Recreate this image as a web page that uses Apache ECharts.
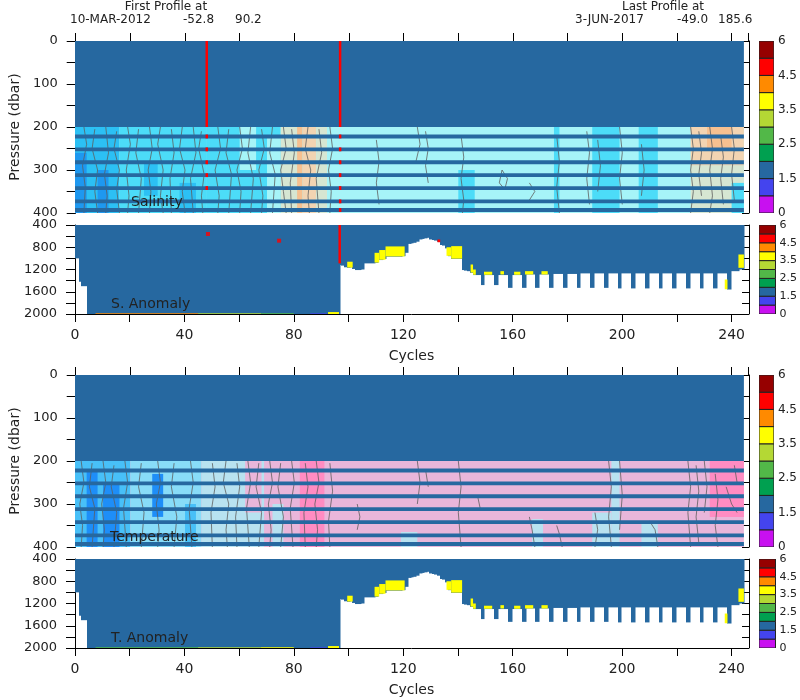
<!DOCTYPE html>
<html><head><meta charset="utf-8">
<script src="https://cdn.jsdelivr.net/npm/echarts@6/dist/echarts.min.js"></script>
<style>html,body{margin:0;background:#fff}#c{width:800px;height:700px}</style>
</head><body><div id="c"></div><script>
// ---------------- DATA ----------------
const cycleTickStep = 20;
const cycleLabelStep = 40;
const colorbarLabels = {0:'0',2:'1.5',4:'2.5',6:'3.5',8:'4.5',10:'6'};
const colorbarBoxes = [0,1,2,3,4,5,6,7,8,9];
// pressure levels of the sampled rows (dbar) in the 200-400 window
const bandPressures = [222,252,282,312,342,373,393];
// deepest pressure of each profile: [firstCycle, lastCycle, maxPressure]
const profileRuns = [
 [0,1,1000],[2,2,1420],[3,4,1500],[5,96,2000],
 [97,97,1120],[98,98,1130],[99,99,1160],[100,100,1170],[101,101,1160],[102,102,1190],[103,104,1210],[105,105,1200],
 [106,109,1090],[110,110,1080],[111,112,1030],[113,113,1010],[114,119,970],[120,120,960],[121,121,900],
 [122,122,740],[123,123,730],[124,124,720],[125,125,700],[126,126,660],[127,127,650],[128,128,640],[129,129,630],
 [130,130,660],[131,131,670],[132,132,680],[133,133,700],[134,134,760],[135,135,770],[136,136,820],[137,137,960],
 [138,141,1010],[142,142,1210],[143,143,1220],[144,144,1230],[145,145,1260],[146,148,1300],[149,149,1480],
 [150,153,1300],[154,154,1480],[155,158,1300],[159,159,1530],[160,163,1300],[164,164,1530],[165,168,1290],
 [169,169,1530],[170,173,1290],[174,174,1530],[175,178,1280],[179,179,1530],[180,183,1280],[184,184,1530],
 [185,188,1270],[189,189,1530],[190,193,1270],[194,194,1530],[195,198,1270],[199,199,1540],[200,203,1270],
 [204,204,1540],[205,208,1270],[209,209,1540],[210,213,1270],[214,214,1540],[215,218,1270],[219,219,1540],
 [220,223,1270],[224,224,1540],[225,228,1270],[229,229,1540],[230,233,1270],[234,234,1540],[235,238,1270],
 [239,239,1560],[240,242,1230],[243,244,1200]
];
// salinity field patches 200-400 dbar: [cycleFrom, cycleTo, pFrom, pTo, level]
const salField = [
 [-0.5,244.5,200,400,3],[-0.5,16,200,400,1],[-0.5,4,260,400,0],[8,12,300,400,0],
 [16,48,200,400,2],[25,30,280,360,1],[38,44,330,400,1],[48,75,200,400,2],[60,66,200,300,3],
 [70,75,220,400,3],[75,81,200,400,4],[81,83,200,400,6],[83,88,200,400,5],[88,92,200,400,4],
 [92,96.5,200,400,3],[140,146,300,400,2],[175,177,200,400,2],[189,199,200,400,2],[206,213,200,400,2],
 [225,244.5,200,290,5],[231,240,200,250,6],[225,244.5,290,400,4],[240,244.5,330,400,2]
];
// temperature field patches
const tempField = [
 [-0.5,244.5,200,400,4],[-0.5,20,200,400,1],[4,8,220,400,0],[10,16,250,400,0],
 [20,46,200,400,2],[28,32,230,330,0],[40,44,300,400,1],[46,69,200,400,3],[62,68,200,320,4],
 [69,82,200,400,4],[72,76,300,400,3],[82,91,200,400,5],[119,125,365,400,3],[167,171,335,400,3],
 [189,196,320,400,3],[196,199,200,400,3],[207,213,345,400,3],[232,244.5,200,330,5]
];
// contour lines [cycle, pressure]
const salContours = [
 [[3,200],[4,240],[2.5,290],[3.5,340],[3,400]],[[7,205],[6,250],[8,300],[7,350],[8,400]],
 [[11,200],[12,260],[10.5,310],[11.5,360],[11,400]],[[15,210],[14,250],[16,300],[15,345],[16,400]],
 [[19,200],[20,240],[18.5,300],[19.5,360],[19,400]],[[23,205],[22,260],[24,320],[23,400]],
 [[27,200],[28,250],[26.5,300],[27.5,350],[27,400]],[[31,200],[30,240],[32,300],[31,360],[32,400]],
 [[35,205],[36,260],[34.5,320],[35,400]],[[39,200],[38,250],[40,300],[39,350],[40,400]],
 [[43,200],[44,260],[42,320],[43,400]],[[46,210],[45,250],[47,310],[46,360],[46.5,400]],
 [[52,200],[53,250],[51,300],[52.5,360],[52,400]],[[56,205],[55,260],[57,310],[56,400]],
 [[60,200],[61,250],[59,300],[60.5,350],[60,400]],[[64,200],[63,260],[65,320],[64,400]],
 [[68,205],[69,250],[67,300],[68.5,360],[68,400]],[[72,200],[71,260],[73,310],[72,400]],
 [[76,200],[77,250],[75,300],[76,350],[77,400]],[[79,205],[80,260],[78.5,330],[79,400]],
 [[85,200],[84,250],[86,300],[85,360],[85.5,400]],[[89,205],[90,260],[88,320],[89,400]],
 [[93,200],[94,250],[92.5,300],[93.5,350],[93,400]],
 [[110,230],[111,280],[110,330],[111,380]],[[125,200],[126,240],[124.5,280]],
 [[128,210],[129,250],[128,290],[129,330]],[[141,220],[142,270],[141,320],[142,370],[141.5,400]],
 [[156,300],[158,320],[157,345],[155,330],[156,300]],[[166,330],[168,350],[166,370]],
 [[176,220],[177,280],[176,340],[177,400]],[[187,210],[188,260],[187,320],[188,380]],
 [[191,230],[192,290],[191,350]],[[199,200],[200,260],[199,320],[200,380]],[[207,240],[208,300],[207,360]],
 [[225,200],[226,250],[225,300],[226,350],[225,400]],[[228,210],[229,260],[228,310],[229,360]],
 [[232,200],[233,250],[232,300],[233,360],[232,400]],[[236,220],[237,270],[236,320],[237,380]],
 [[240,200],[241,250],[240,310],[241,370]]
];
const tempContours = [
 [[2,200],[3,250],[1.5,300],[2.5,350],[2,400]],[[6,205],[5,260],[7,310],[6,400]],
 [[10,200],[11,250],[9.5,300],[10.5,360],[10,400]],[[14,210],[13,260],[15,320],[14,400]],
 [[18,200],[19,250],[17.5,310],[18.5,400]],[[24,205],[23,260],[25,320],[24,400]],
 [[30,200],[31,250],[29.5,300],[30.5,360],[30,400]],[[36,205],[35,260],[37,330],[36,400]],
 [[42,200],[43,250],[41.5,310],[42.5,400]],[[50,205],[51,260],[49.5,320],[50,400]],
 [[55,200],[54,250],[56,300],[55,360],[55.5,400]],[[59,205],[60,260],[58.5,330],[59,400]],
 [[63,200],[64,250],[62.5,310],[63.5,400]],[[67,205],[66,260],[68,320],[67,400]],
 [[71,200],[72,250],[70.5,300],[71.5,360],[71,400]],[[75,205],[74,260],[76,330],[75,400]],
 [[79,200],[80,250],[78.5,310],[79.5,400]],[[84,205],[85,260],[83.5,320],[84,400]],
 [[88,200],[89,250],[87.5,300],[88.5,360],[88,400]],[[93,205],[94,270],[92.5,340],[93,400]],
 [[103,300],[104,330],[103,360]],[[125,200],[126,250],[125,300]],[[128,220],[129,260]],
 [[140,200],[141,260],[140,320],[141,400]],[[147,280],[148,310]],[[166,330],[167,360],[168,400]],
 [[176,350],[177,370],[178,400]],[[190,320],[191,360],[190,400]],[[195,200],[196,260],[195,330],[196,400]],
 [[199,200],[200,280],[199,360]],[[208,345],[210,340],[212,360],[213,400]],
 [[224,200],[225,260],[224,320],[225,400]],[[227,210],[228,270],[227,330],[228,390]],
 [[230,200],[231,260],[230,320]],[[234,230],[235,290],[234,350],[235,400]],
 [[238,260],[240,300],[242,320]],[[241,210],[242,250]]
];
// quality-flag patches (colour-bar box index) : [cycleFrom, cycleTo, pFrom, pTo, box]
const salTopFlags = [[47.5,48.4,0,200,8],[96.3,97.2,0,200,8]];
const salTopFlagRows = [[47.5,48.4,342],[96.3,97.2,400]];   // red dots on sampled rows down to given pressure
const salLowFlags = [
 [96.3,97.2,400,1090,8],[99.5,101.5,1060,1165,6],[109.5,111.2,900,1075,6],[111.2,113.5,850,1025,6],
 [113.5,120.5,785,965,6],[132.5,133.5,660,710,8],[135.8,137.5,800,955,6],[137.5,141.5,780,1005,6],
 [144.6,145.5,1110,1255,6],[145.5,146.5,1200,1295,6],[149.5,152.5,1240,1295,6],[155.5,156.8,1230,1290,6],
 [160.5,162.8,1240,1295,6],[164.5,167.5,1230,1290,6],[170.5,172.8,1230,1290,6],[237.5,238.5,1380,1555,6],
 [242.5,244.5,930,1170,6],[7.5,45,1988,2000,7],[45,68,1988,2000,5],[68,80,1988,2000,4],
 [86,92,1988,2000,1],[92.5,96.5,1965,2000,6]
];
const salLowDots = [[48.6,562],[74.6,682]];
const tempLowFlags = [
 [99.5,101.5,1060,1165,6],[109.5,111.2,900,1075,6],[111.2,113.5,850,1025,6],
 [113.5,120.5,785,965,6],[135.8,137.5,800,955,6],[137.5,141.5,780,1005,6],
 [144.6,145.5,1110,1255,6],[145.5,146.5,1200,1295,6],[149.5,152.5,1240,1295,6],[155.5,156.8,1230,1290,6],
 [160.5,162.8,1240,1295,6],[164.5,167.5,1230,1290,6],[170.5,172.8,1230,1290,6],[237.5,238.5,1380,1555,6],
 [242.5,244.5,930,1170,6],[7.5,45,1988,2000,4],[45,68,1988,2000,5],[68,80,1988,2000,6],
 [86,92,1988,2000,1],[92.5,96.5,1965,2000,6]
];

// ---------------- STYLE ----------------
const flagColors = ['#c810f0','#4444ee','#2668a0','#00a050','#52b848','#b4d834','#ffff00','#ff8a00','#ff0000','#960000'];
const salPalette = ['#1e98f0','#2cc0f4','#4cdcf8','#a6f4f8','#d6e6d2','#f2d4b2','#f6c090'];
const tempPalette = ['#1e8ef8','#48c0f8','#88dcf8','#b8e2f0','#e9b6da','#ff8cc2'];
const FONT = 'DejaVu Sans';

function rectSeries(xi, yi, data, palette, z, stroke, snap) {
  return {
    type: 'custom', xAxisIndex: xi, yAxisIndex: yi, z: z, clip: true, silent: true,
    encode: { x: [0, 1], y: [2, 3] }, data: data,
    renderItem: function (params, api) {
      const a = api.coord([api.value(0), api.value(2)]);
      const b = api.coord([api.value(1), api.value(3)]);
      const x0 = Math.min(a[0], b[0]), w = Math.abs(b[0] - a[0]);
      return { type: 'rect',
        shape: snap ? { x: Math.floor(x0), y: Math.min(a[1], b[1]), width: Math.ceil(w + x0 - Math.floor(x0)) + 0.5, height: Math.abs(b[1] - a[1]) }
                    : { x: x0, y: Math.min(a[1], b[1]), width: w, height: Math.abs(b[1] - a[1]) },
        style: { fill: palette[api.value(4)], stroke: stroke || null, lineWidth: stroke ? 1 : 0 } };
    }
  };
}
function bandRects(rows, c0, c1, maxP, box) {
  return rows.filter(p => p <= maxP).map(p => [c0, c1, p - 4.5, p + 4.5, box]);
}
function contourSeries(xi, yi, list) {
  return list.map(pts => ({ type: 'line', xAxisIndex: xi, yAxisIndex: yi, data: pts, symbol: 'none',
    z: 3, silent: true, clip: true, lineStyle: { color: '#5e5e5e', width: 0.8 } }));
}
function xAx(grid, pos, labels) {
  return { type: 'value', gridIndex: grid, position: pos, min: 0, max: 246, interval: cycleTickStep,
    axisLine: { show: true, onZero: false, lineStyle: { color: '#000', width: 1 } },
    axisTick: { show: true, length: 8, lineStyle: { color: '#000' } },
    axisLabel: labels ? { fontSize: 14, margin: 14, color: '#222', fontFamily: FONT, showMaxLabel: false,
      formatter: v => (v % cycleLabelStep === 0 ? String(v) : '') } : { show: false },
    splitLine: { show: false },
    name: labels ? 'Cycles' : '', nameLocation: 'middle', nameGap: 35,
    nameTextStyle: { fontSize: 14, color: '#222', fontFamily: FONT } };
}
function yAx(grid, pos, min, max, step, labelStep, name) {
  const left = pos === 'left';
  return { type: 'value', gridIndex: grid, position: pos, inverse: true, min: min, max: max, interval: step,
    offset: left ? 2 : 1,
    axisLine: { show: true, lineStyle: { color: '#000', width: 1 } },
    axisTick: { show: true, inside: !left, length: left ? 9 : 7, lineStyle: { color: '#000' } },
    axisLabel: left ? { fontSize: 13, margin: 16, color: '#222', fontFamily: FONT,
      formatter: v => (v % labelStep === 0 ? String(v) : '') } : { show: false },
    splitLine: { show: false },
    name: name || '', nameLocation: 'middle', nameGap: 48, nameRotate: 90,
    nameTextStyle: { fontSize: 14, color: '#222', fontFamily: FONT } };
}
function cbY(grid, fs) {
  return { type: 'value', gridIndex: grid, position: 'right', min: 0, max: 10, interval: 2,
    axisLine: { show: false }, axisTick: { show: false }, splitLine: { show: false },
    axisLabel: { fontSize: fs, margin: 4, color: '#222', fontFamily: FONT, formatter: v => colorbarLabels[v] } };
}
function cbX(grid) {
  return { type: 'value', gridIndex: grid, min: 0, max: 1, show: false };
}

const profileRects = profileRuns.map(r => [r[0] - 0.5, r[1] + 0.5, 400, r[2], 2]);
const topSolid = [[-0.5, 244.5, 0, 200, 2]].concat(bandRects(bandPressures, -0.5, 244.5, 400, 2));
let salRed = salTopFlags.slice();
salTopFlagRows.forEach(r => { salRed = salRed.concat(bandRects(bandPressures, r[0], r[1], r[2], 8)); });
const cbData = colorbarBoxes.map(i => [0, 1, i, i + 1, i]);

const series = [
  rectSeries(0, 0, salField, salPalette, 1),
  ...contourSeries(0, 0, salContours),
  rectSeries(0, 0, topSolid, flagColors, 4),
  rectSeries(0, 0, salRed, flagColors, 5),
  rectSeries(1, 2, profileRects, flagColors, 1, null, true),
  rectSeries(1, 2, salLowFlags, flagColors, 2),
  { type: 'scatter', xAxisIndex: 1, yAxisIndex: 2, data: salLowDots, symbol: 'rect', symbolSize: 4,
    itemStyle: { color: '#ff0000' }, z: 6, silent: true },
  rectSeries(2, 4, tempField, tempPalette, 1),
  ...contourSeries(2, 4, tempContours),
  rectSeries(2, 4, topSolid, flagColors, 4),
  rectSeries(3, 6, profileRects, flagColors, 1, null, true),
  rectSeries(3, 6, tempLowFlags, flagColors, 2),
  rectSeries(4, 8, cbData, flagColors, 2, '#222'),
  rectSeries(5, 9, cbData, flagColors, 2, '#222'),
  rectSeries(6, 10, cbData, flagColors, 2, '#222'),
  rectSeries(7, 11, cbData, flagColors, 2, '#222')
];

function txt(x, y, s, size, align) {
  return { type: 'text', x: x, y: y, z: 100,
    style: { text: s, fontSize: size, fontFamily: FONT, fill: '#222', textAlign: align || 'left', textVerticalAlign: 'middle' } };
}

const option = {
  animation: false,
  grid: [
    { left: 75, top: 41, width: 673, height: 172 },
    { left: 75, top: 225, width: 673, height: 89 },
    { left: 75, top: 375, width: 673, height: 172 },
    { left: 75, top: 559, width: 673, height: 89 },
    { left: 759, top: 41, width: 20, height: 172 },
    { left: 759, top: 225, width: 20, height: 89 },
    { left: 759, top: 375, width: 20, height: 172 },
    { left: 759, top: 559, width: 20, height: 89 }
  ],
  xAxis: [xAx(0, 'top', false), xAx(1, 'bottom', true), xAx(2, 'top', false), xAx(3, 'bottom', true),
          cbX(4), cbX(5), cbX(6), cbX(7)],
  yAxis: [
    yAx(0, 'left', 0, 400, 50, 100, 'Pressure (dbar)'), yAx(0, 'right', 0, 400, 50, 100),
    yAx(1, 'left', 400, 2000, 200, 400), yAx(1, 'right', 400, 2000, 200, 400),
    yAx(2, 'left', 0, 400, 50, 100, 'Pressure (dbar)'), yAx(2, 'right', 0, 400, 50, 100),
    yAx(3, 'left', 400, 2000, 200, 400), yAx(3, 'right', 400, 2000, 200, 400),
    cbY(4, 12), cbY(5, 11), cbY(6, 12), cbY(7, 11)
  ],
  series: series,
  graphic: [
    txt(166, 7, 'First Profile at', 12, 'center'),
    txt(70, 20, '10-MAR-2012', 12), txt(183, 20, '-52.8', 12), txt(235, 20, '90.2', 12),
    txt(663, 7, 'Last Profile at', 12, 'center'),
    txt(575, 20, '3-JUN-2017', 12), txt(677, 20, '-49.0', 12), txt(718, 20, '185.6', 12),
    txt(131, 202, 'Salinity', 14), txt(111, 304, 'S. Anomaly', 14),
    txt(110, 537, 'Temperature', 14), txt(111, 638, 'T. Anomaly', 14)
  ]
};
const chart = echarts.init(document.getElementById('c'), null, { renderer: 'canvas' });
chart.setOption(option);
</script></body></html>
